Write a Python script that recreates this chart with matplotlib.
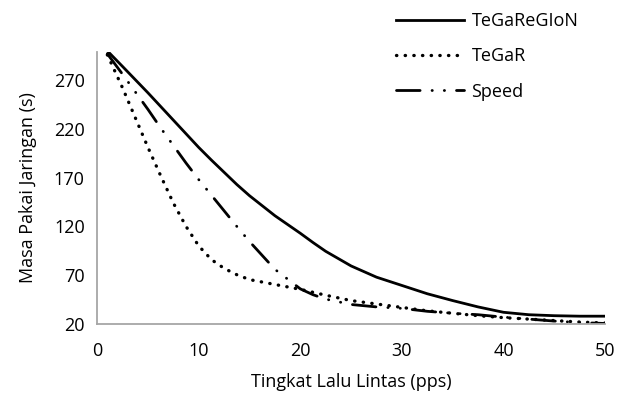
import numpy as np
import matplotlib
matplotlib.use("Agg")
import matplotlib.pyplot as plt

plt.rcParams['font.family'] = ['Open Sans', 'DejaVu Sans']

# data
x = [1, 2.5, 5, 6.25, 7.5, 8.75, 10, 11.25, 12.5, 13.75, 15, 17.5, 20, 21.25, 22.5,
     25, 27.5, 30, 32.5, 35, 37.5, 40, 42.5, 45, 47.5, 50]
tegaregion = [300, 284, 257, 243, 229, 215, 201, 188, 175.5, 163, 151.5, 131, 113, 103.5, 94.5,
              79.5, 68, 59.5, 51, 44, 37.5, 32, 29.5, 28.5, 28, 28]
tegar = [296, 262, 201, 172, 144, 120, 100, 86, 77, 70.5, 65.5, 60.5, 55.5, 52.5, 49.5,
         44, 40.5, 37, 33.5, 31, 28.5, 26.5, 25, 23.5, 22, 21]
speed = [297, 276, 240, 221, 203, 185, 168, 152, 136, 120, 104.5, 76, 56, 50, 45.5,
         40, 37.5, 36, 33, 31, 29.5, 27, 25, 23, 21.5, 20.5]

xticks = [0, 10, 20, 30, 40, 50]
yticks = [20, 70, 120, 170, 220, 270]

fig = plt.figure(figsize=(6.27, 3.99), dpi=100)
ax = fig.add_axes([0.155, 0.188, 0.81, 0.682])

ax.plot(x, tegaregion, color='black', lw=2.0, label='TeGaReGIoN')
ax.plot(x, tegar, color='black', lw=2.4, linestyle=(0, (0.1, 2.5)),
        dash_capstyle='round', label='TeGaR')
ax.plot(x, speed, color='black', lw=2.0, linestyle=(0, (8.5, 4.3, 0.1, 4.3, 0.1, 4.3)),
        dash_capstyle='round', label='Speed')

ax.set_xlim(0, 50)
ax.set_ylim(20, 299)
ax.set_xticks(xticks)
ax.set_yticks(yticks)
ax.tick_params(length=0, labelsize=13, pad=9)
ax.tick_params(axis='x', pad=13)

for s in ['top', 'right']:
    ax.spines[s].set_visible(False)
for s in ['left', 'bottom']:
    ax.spines[s].set_color('#a6a6a6')
    ax.spines[s].set_linewidth(1.3)

ax.set_xlabel('Tingkat Lalu Lintas (pps)', fontsize=13, labelpad=9)
ax.set_ylabel('Masa Pakai Jaringan (s)', fontsize=13, labelpad=12)

fig.legend(loc='upper left', bbox_to_anchor=(0.605, 1.01), frameon=False,
           fontsize=13, handlelength=3.8, handletextpad=0.4, labelspacing=0.95)

fig.savefig('out.png', dpi=100)
